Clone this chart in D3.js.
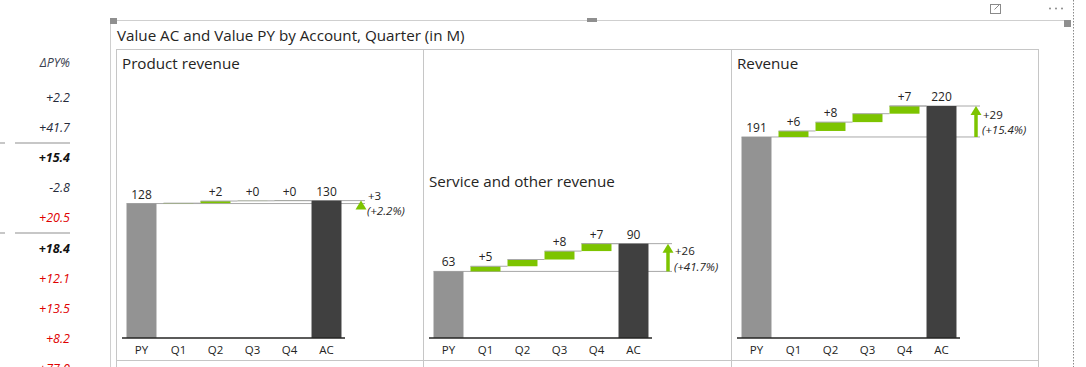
<!DOCTYPE html>
<html><head><meta charset="utf-8">
<script src="https://cdn.jsdelivr.net/npm/d3@7"></script>
<style>
body{margin:0;background:#fff;overflow:hidden}
text{font-family:"Segoe UI","Open Sans","Noto Sans",sans-serif}
</style>
</head><body>
<svg id="c" width="1086" height="367"></svg>
<script>
// ---------- data ----------
const chartTitle = "Value AC and Value PY by Account, Quarter (in M)";
const accounts = ["Product revenue", "Service and other revenue", "Revenue"];
const categories = ["PY", "Q1", "Q2", "Q3", "Q4", "AC"];
const quarters = ["Q1", "Q2", "Q3", "Q4"];
const pyValues = [127.6, 63.2, 190.8];
const quarterDeltas = [
  [0.4, 2.0, 0.2, 0.2],
  [4.9, 6.4, 8.0, 7.05],
  [5.7, 8.4, 8.0, 7.3]
];
const hiddenDeltaLabel = ["Q1", "Q2", "Q3"]; // quarter label not shown, per account
const sideHeader = "ΔPY%";
const sideValues = [2.2, 41.7, 15.4, -2.8, 20.5, 18.4, 12.1, 13.5, 8.2, 77.0];
const sideKinds = ["plain", "plain", "total", "plain", "alert", "total", "alert", "alert", "alert", "alert"];

// ---------- drawing ----------
const svg = d3.select("#c");
const C = {py: "#939393", ac: "#404040", green: "#7dc400", conn: "#a8a8a8", text: "#252423", red: "#e00000", grid: "#c6c6c6"};

// left side column
const side = svg.append("g");
side.append("text").attr("x", 70).attr("y", 67).attr("text-anchor", "end")
  .attr("font-size", 12.5).attr("font-style", "italic").attr("fill", "#3a4150").text(sideHeader);
const fmtPct = d3.format("+.1f");
sideValues.forEach((v, i) => {
  const y = 102 + i * 30 + (i >= 5 ? 1 : 0);
  const k = sideKinds[i];
  side.append("text").attr("x", 70).attr("y", y).attr("text-anchor", "end")
    .attr("font-size", 12.5).attr("font-style", "italic")
    .attr("font-weight", k === "total" ? 700 : 400)
    .attr("fill", k === "alert" ? C.red : (k === "total" ? "#111" : "#252a3a"))
    .text(v < 0 ? "-" + Math.abs(v).toFixed(1) : fmtPct(v));
});
[143, 233].forEach(y => {
  side.append("line").attr("x1", 0).attr("x2", 5).attr("y1", y).attr("y2", y).attr("stroke", "#b4b4b4").attr("stroke-width", 1.5);
  side.append("line").attr("x1", 15).attr("x2", 70).attr("y1", y).attr("y2", y).attr("stroke", "#b4b4b4").attr("stroke-width", 1.5);
});

// visual frame
svg.append("line").attr("x1", 110.5).attr("x2", 110.5).attr("y1", 20).attr("y2", 367).attr("stroke", "#cfcfcf");
svg.append("line").attr("x1", 110).attr("x2", 1068).attr("y1", 20.5).attr("y2", 20.5).attr("stroke", "#cfcfcf");
svg.append("line").attr("x1", 1073.5).attr("x2", 1073.5).attr("y1", 0).attr("y2", 367)
  .attr("stroke", "#8a8a8a").attr("stroke-dasharray", "1.5,1.5");
svg.append("rect").attr("x", 110).attr("y", 18).attr("width", 7).attr("height", 6).attr("fill", "#8f8f8f");
svg.append("rect").attr("x", 1064).attr("y", 20).attr("width", 7).attr("height", 7).attr("fill", "#8f8f8f");
svg.append("rect").attr("x", 587).attr("y", 18).attr("width", 10).attr("height", 4).attr("fill", "#8f8f8f");
// header icons
const ic = svg.append("g").attr("stroke", "#8a8a8a").attr("fill", "none");
ic.append("rect").attr("x", 990.5).attr("y", 4.5).attr("width", 10).attr("height", 9);
ic.append("path").attr("d", "M994.5 9.5 L1000 4 M996.5 4.5 H1000.5 V8.5");
[1050, 1056, 1062].forEach(x => svg.append("circle").attr("cx", x).attr("cy", 8.5).attr("r", 1).attr("fill", "#8a8a8a"));

svg.append("text").attr("x", 117).attr("y", 41).attr("font-size", 15.2).attr("fill", C.text).text(chartTitle);

// panel grid
const panelX = [116, 423, 731];
const gridTop = 49.5, gridBottom = 360.5;
const grid = svg.append("g").attr("stroke", C.grid).attr("stroke-width", 1);
grid.append("line").attr("x1", 116).attr("x2", 1039).attr("y1", gridTop).attr("y2", gridTop);
grid.append("line").attr("x1", 116).attr("x2", 1039).attr("y1", gridBottom).attr("y2", gridBottom);
[116.5, 423.5, 731.5, 1038.5].forEach(x => grid.append("line").attr("x1", x).attr("x2", x).attr("y1", gridTop).attr("y2", 367));

const y = d3.scaleLinear().domain([0, 220.2]).range([338, 106]);
const panelTitleY = [69, 187, 69];
const fmtD = d3.format("+.0f");
const fmtV = d3.format(".0f");

accounts.forEach((name, p) => {
  const x0 = panelX[p];
  const g = svg.append("g");
  const x = d3.scaleBand().domain(categories).range([x0 + 7, x0 + 229]).paddingInner(0.19).paddingOuter(0.095);
  const bw = x.bandwidth();
  const py = pyValues[p];
  const deltas = quarterDeltas[p];
  const ac = py + d3.sum(deltas);
  const arrowX = x0 + 245;
  const lineEnd = x0 + 249;

  g.append("text").attr("x", x0 + 6).attr("y", panelTitleY[p]).attr("font-size", 15.2).attr("fill", C.text).text(name);

  // reference lines at PY and AC level
  g.append("line").attr("x1", x("PY")).attr("x2", lineEnd).attr("y1", y(py)).attr("y2", y(py)).attr("stroke", C.conn);
  g.append("line").attr("x1", x("Q4")).attr("x2", lineEnd).attr("y1", y(ac)).attr("y2", y(ac)).attr("stroke", C.conn);

  // PY and AC bars
  g.append("rect").attr("x", x("PY")).attr("y", y(py)).attr("width", bw).attr("height", y(0) - y(py)).attr("fill", C.py);
  g.append("rect").attr("x", x("AC")).attr("y", y(ac)).attr("width", bw).attr("height", y(0) - y(ac)).attr("fill", C.ac);

  // quarter bars
  let cum = py;
  quarters.forEach((q, i) => {
    const d = deltas[i];
    const start = cum, end = cum + d;
    g.append("rect").attr("x", x(q)).attr("y", y(Math.max(start, end))).attr("width", bw)
      .attr("height", Math.abs(y(start) - y(end))).attr("fill", C.green);
    const nx = i < 3 ? x(quarters[i + 1]) : x("AC");
    g.append("line").attr("x1", x(q)).attr("x2", nx).attr("y1", y(end)).attr("y2", y(end)).attr("stroke", C.conn);
    if (hiddenDeltaLabel[p] !== q) {
      g.append("text").attr("x", x(q) + bw / 2).attr("y", y(Math.max(start, end)) - 5)
        .attr("text-anchor", "middle").attr("font-size", 12).attr("fill", C.text).text(fmtD(d));
    }
    cum = end;
  });

  // PY / AC value labels
  g.append("text").attr("x", x("PY") + bw / 2).attr("y", y(py) - 5).attr("text-anchor", "middle")
    .attr("font-size", 12).attr("fill", C.text).text(fmtV(py));
  g.append("text").attr("x", x("AC") + bw / 2).attr("y", y(ac) - 5).attr("text-anchor", "middle")
    .attr("font-size", 12).attr("fill", C.text).text(fmtV(ac));

  // axis
  const axis = d3.axisBottom(x).tickSize(0).tickPadding(8);
  const ag = g.append("g").attr("transform", `translate(0,${y(0)})`).call(axis);
  ag.select(".domain").attr("stroke", "#252423").attr("stroke-width", 1.5).attr("d", `M${x0 + 6},0H${x0 + 229}`);
  ag.selectAll("text").attr("font-size", 11.5).attr("fill", C.text).attr("font-family", '"Segoe UI","Open Sans",sans-serif');

  // delta arrow
  const delta = ac - py;
  const yA = y(ac), yP = y(py);
  const head = 9, hw = 5.5;
  const headTop = yA;
  if (yP - yA > head) {
    g.append("line").attr("x1", arrowX).attr("x2", arrowX).attr("y1", yA + head - 1).attr("y2", yP)
      .attr("stroke", C.green).attr("stroke-width", 3.5);
  }
  g.append("path").attr("d", `M${arrowX},${headTop} L${arrowX + hw},${headTop + head} L${arrowX - hw},${headTop + head} Z`).attr("fill", C.green);
  const mid = (yA + yP) / 2;
  g.append("text").attr("x", x0 + 252).attr("y", mid - 2.5).attr("font-size", 11.5).attr("fill", C.text).text(fmtD(delta));
  g.append("text").attr("x", x0 + 251).attr("y", mid + 13).attr("font-size", 11.5).attr("font-style", "italic")
    .attr("fill", C.text).text("(" + fmtPct(delta / py * 100) + "%)");
});
</script>
</body></html>
